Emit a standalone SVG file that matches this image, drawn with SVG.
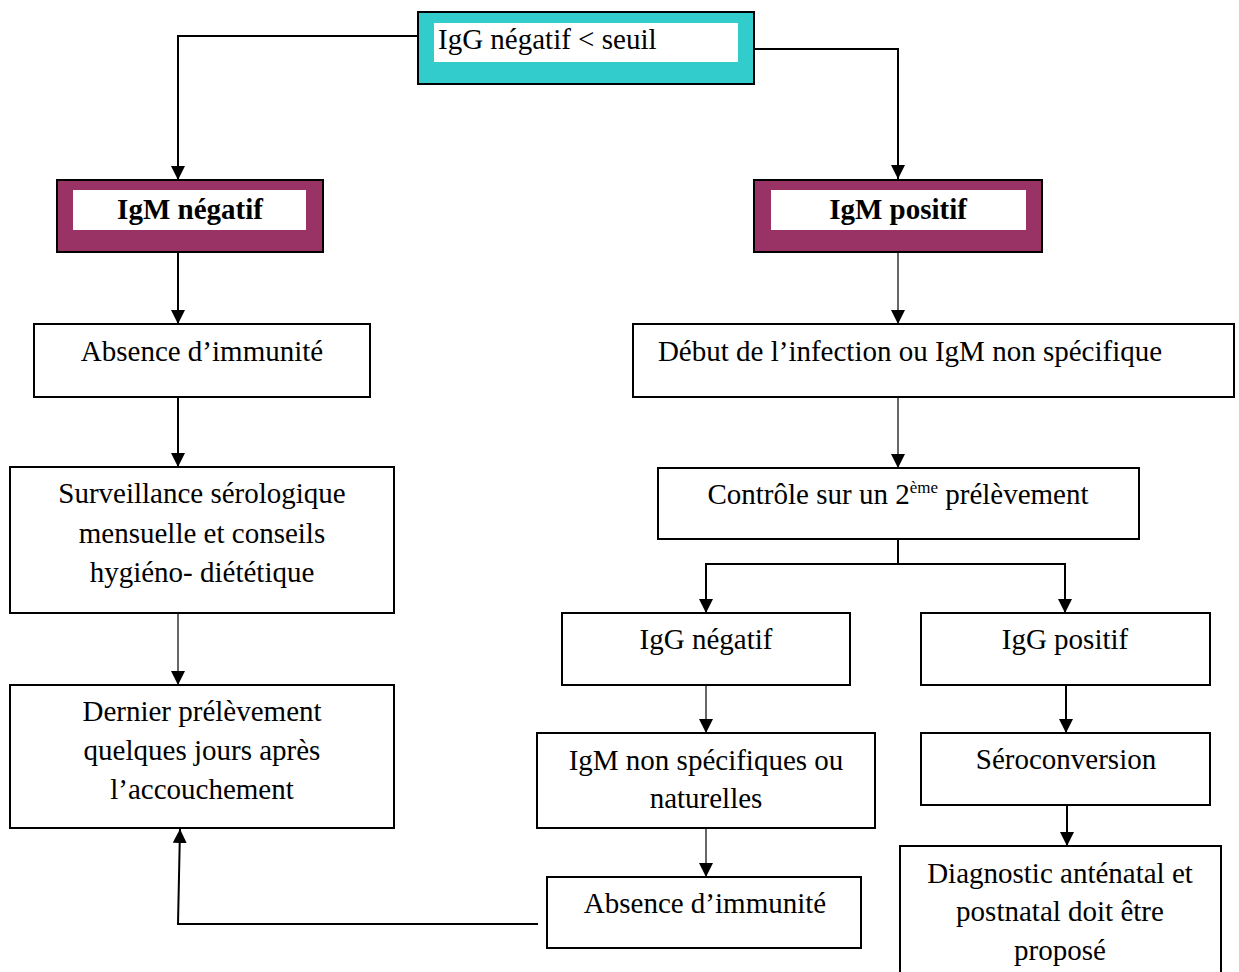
<svg xmlns="http://www.w3.org/2000/svg" width="1239" height="972" viewBox="0 0 1239 972">
<style>
.box{fill:#fff;stroke:#000;stroke-width:2}
.t{font-family:"Liberation Serif","Times New Roman",serif;font-size:29px;fill:#000;text-anchor:middle}
.b{font-weight:bold}
.c{fill:none;stroke:#000;stroke-width:2}
.thin{stroke-width:1.2}
</style>
<defs>
<marker id="ar" markerUnits="userSpaceOnUse" markerWidth="14" markerHeight="14" refX="14" refY="7" orient="auto" viewBox="0 0 14 14">
<path d="M0,0 L14,7 L0,14 z" fill="#000"/>
</marker>
</defs>
<rect width="1239" height="972" fill="#fff"/>
<g id="connectors">
<path class="c" d="M418,36 H178 V180" marker-end="url(#ar)"/>
<path class="c" d="M754,49 H898 V179" marker-end="url(#ar)"/>
<path class="c" d="M178,252 V324" marker-end="url(#ar)"/>
<path class="c thin" d="M898,252 V324" marker-end="url(#ar)"/>
<path class="c" d="M178,397 V467" marker-end="url(#ar)"/>
<path class="c thin" d="M898,397 V468" marker-end="url(#ar)"/>
<path class="c thin" d="M178,613 V685" marker-end="url(#ar)"/>
<path class="c" d="M898,539 V564 H706 V613" marker-end="url(#ar)"/>
<path class="c" d="M898,564 H1065 V613" marker-end="url(#ar)"/>
<path class="c thin" d="M706,685 V733" marker-end="url(#ar)"/>
<path class="c" d="M1066,685 V733" marker-end="url(#ar)"/>
<path class="c thin" d="M706,828 V877" marker-end="url(#ar)"/>
<path class="c" d="M1067,805 V846" marker-end="url(#ar)"/>
<path class="c" d="M538,924 H178 L180,829" marker-end="url(#ar)"/>
</g>
<g id="n-top">
<rect x="418" y="12" width="336" height="72" fill="#33CCCC" stroke="#000" stroke-width="2"/>
<rect x="434" y="23" width="304" height="39" fill="#fff"/>
<text class="t" x="438" y="49" style="text-anchor:start">IgG négatif &lt; seuil</text>
</g>
<g id="n-igm-neg">
<rect x="57" y="180" width="266" height="72" fill="#993366" stroke="#000" stroke-width="2"/>
<rect x="73" y="190" width="233" height="40" fill="#fff"/>
<text class="t b" x="190" y="219">IgM négatif</text>
</g>
<g id="n-igm-pos">
<rect x="754" y="180" width="288" height="72" fill="#993366" stroke="#000" stroke-width="2"/>
<rect x="771" y="190" width="255" height="40" fill="#fff"/>
<text class="t b" x="898" y="219">IgM positif</text>
</g>
<g id="n-absence1">
<rect class="box" x="34" y="324" width="336" height="73"/>
<text class="t" x="202" y="361">Absence d’immunité</text>
</g>
<g id="n-debut">
<rect class="box" x="633" y="324" width="601" height="73"/>
<text class="t" x="910" y="361">Début de l’infection ou IgM non spécifique</text>
</g>
<g id="n-surveillance">
<rect class="box" x="10" y="467" width="384" height="146"/>
<text class="t" x="202" y="503">Surveillance sérologique</text>
<text class="t" x="202" y="543">mensuelle et conseils</text>
<text class="t" x="202" y="582">hygiéno- diététique</text>
</g>
<g id="n-controle">
<rect class="box" x="658" y="468" width="481" height="71"/>
<text class="t" x="898" y="504">Contrôle sur un 2<tspan font-size="17" dy="-11">ème</tspan><tspan dy="11"> prélèvement</tspan></text>
</g>
<g id="n-igg-neg">
<rect class="box" x="562" y="613" width="288" height="72"/>
<text class="t" x="706" y="649">IgG négatif</text>
</g>
<g id="n-igg-pos">
<rect class="box" x="921" y="613" width="289" height="72"/>
<text class="t" x="1065" y="649">IgG positif</text>
</g>
<g id="n-dernier">
<rect class="box" x="10" y="685" width="384" height="143"/>
<text class="t" x="202" y="721">Dernier prélèvement</text>
<text class="t" x="202" y="760">quelques jours après</text>
<text class="t" x="202" y="799">l’accouchement</text>
</g>
<g id="n-igm-ns">
<rect class="box" x="537" y="733" width="338" height="95"/>
<text class="t" x="706" y="770">IgM non spécifiques ou</text>
<text class="t" x="706" y="808">naturelles</text>
</g>
<g id="n-seroconv">
<rect class="box" x="921" y="733" width="289" height="72"/>
<text class="t" x="1066" y="769">Séroconversion</text>
</g>
<g id="n-absence2">
<rect class="box" x="547" y="877" width="314" height="71"/>
<text class="t" x="705" y="913">Absence d’immunité</text>
</g>
<g id="n-diagnostic">
<rect class="box" x="900" y="846" width="321" height="140"/>
<text class="t" x="1060" y="883">Diagnostic anténatal et</text>
<text class="t" x="1060" y="921">postnatal doit être</text>
<text class="t" x="1060" y="960">proposé</text>
</g>
</svg>
